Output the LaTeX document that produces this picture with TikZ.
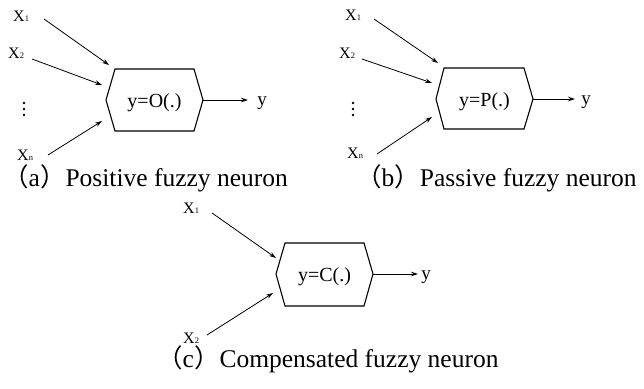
\documentclass[tikz,border=0pt]{standalone}
\usepackage{fontspec}
\setmainfont{Liberation Serif}
\newfontfamily\cjk{Noto Sans CJK SC}
\usetikzlibrary{arrows.meta}
\tikzset{
  hexa/.style={draw=black, line width=1.1pt, line join=miter},
  conn/.style={draw=black, line width=0.8pt, -{Stealth[length=7pt,width=4.5pt]}},
  inlabel/.style={font=\rmfamily\fontsize{16}{16}\selectfont, inner sep=0pt, anchor=base west},
  func/.style={font=\rmfamily\fontsize{20}{20}\selectfont, inner sep=0pt, anchor=base},
  outlabel/.style={font=\rmfamily\fontsize{19}{19}\selectfont, inner sep=0pt, anchor=base},
  caption/.style={font=\rmfamily\fontsize{25.5}{25.5}\selectfont, inner sep=0pt, anchor=base west},
  dotmark/.style={fill=black},
}
\newcommand{\sbs}[1]{{\fontsize{8.5}{8.5}\selectfont #1}}
\newcommand{\lpar}{{\cjk （}}
\newcommand{\rpar}{{\cjk ）}}
\begin{document}
\begin{tikzpicture}[x=1pt,y=-1pt]
\useasboundingbox (0,0) rectangle (644,388);
% ---------- (a) ----------
\draw[hexa] (106,100) -- (115,69) -- (194,69) -- (203,100) -- (194,131) -- (115,131) -- cycle;
\node[func] (fa) at (154.5,107) {y=O(.)};
\node[inlabel] (x1a) at (13,21) {X\sbs{1}};
\node[inlabel] (x2a) at (8,58) {X\sbs{2}};
\fill[dotmark] (24,103) circle (1.3pt) (24,109) circle (1.3pt) (24,115) circle (1.3pt);
\node[inlabel] (xna) at (17,160) {X\sbs{n}};
\node[outlabel] (ya) at (262,105.5) {y};
\coordinate (s1a) at (44,19);  \coordinate (e1a) at (109,65);
\coordinate (s2a) at (32,59);  \coordinate (e2a) at (102,85);
\coordinate (sna) at (48,155); \coordinate (ena) at (102,121);
\coordinate (oa) at (203,100); \coordinate (ta) at (248,100);
\draw[conn] (s1a) -- (e1a);
\draw[conn] (s2a) -- (e2a);
\draw[conn] (sna) -- (ena);
\draw[conn] (oa) -- (ta);
\node[caption] (ca) at (3,186) {\lpar a\rpar\rmfamily Positive fuzzy neuron};
% ---------- (b) ----------
\draw[hexa] (436,99) -- (444,68) -- (524,68) -- (533,99) -- (524,129) -- (444,129) -- cycle;
\node[func] (fb) at (484.5,106) {y=P(.)};
\node[inlabel] (x1b) at (345,20) {X\sbs{1}};
\node[inlabel] (x2b) at (339,58) {X\sbs{2}};
\fill[dotmark] (353,103) circle (1.3pt) (353,109) circle (1.3pt) (353,115) circle (1.3pt);
\node[inlabel] (xnb) at (347,158) {X\sbs{n}};
\node[outlabel] (yb) at (586,104.5) {y};
\coordinate (s1b) at (374,19);  \coordinate (e1b) at (438,63);
\coordinate (s2b) at (362,59);  \coordinate (e2b) at (432,83);
\coordinate (snb) at (377,154); \coordinate (enb) at (432,117);
\coordinate (ob) at (533,99); \coordinate (tb) at (575,99);
\draw[conn] (s1b) -- (e1b);
\draw[conn] (s2b) -- (e2b);
\draw[conn] (snb) -- (enb);
\draw[conn] (ob) -- (tb);
\node[caption] (cb) at (356,186) {\lpar b\rpar\rmfamily Passive fuzzy neuron};
% ---------- (c) ----------
\draw[hexa] (276,274) -- (285,243) -- (364,243) -- (373,274) -- (364,306) -- (285,306) -- cycle;
\node[func] (fc) at (324.5,281.5) {y=C(.)};
\node[inlabel] (x1c) at (183,213) {X\sbs{1}};
\node[inlabel] (x2c) at (183,343) {X\sbs{2}};
\node[outlabel] (yc) at (426,279.5) {y};
\coordinate (s1c) at (212,213);  \coordinate (e1c) at (276,258);
\coordinate (s2c) at (207,335);  \coordinate (e2c) at (273,293);
\coordinate (oc) at (373,274); \coordinate (tc) at (418,274);
\draw[conn] (s1c) -- (e1c);
\draw[conn] (s2c) -- (e2c);
\draw[conn] (oc) -- (tc);
\node[caption] (cc) at (157,367) {\lpar c\rpar\rmfamily Compensated fuzzy neuron};
\end{tikzpicture}
\end{document}
